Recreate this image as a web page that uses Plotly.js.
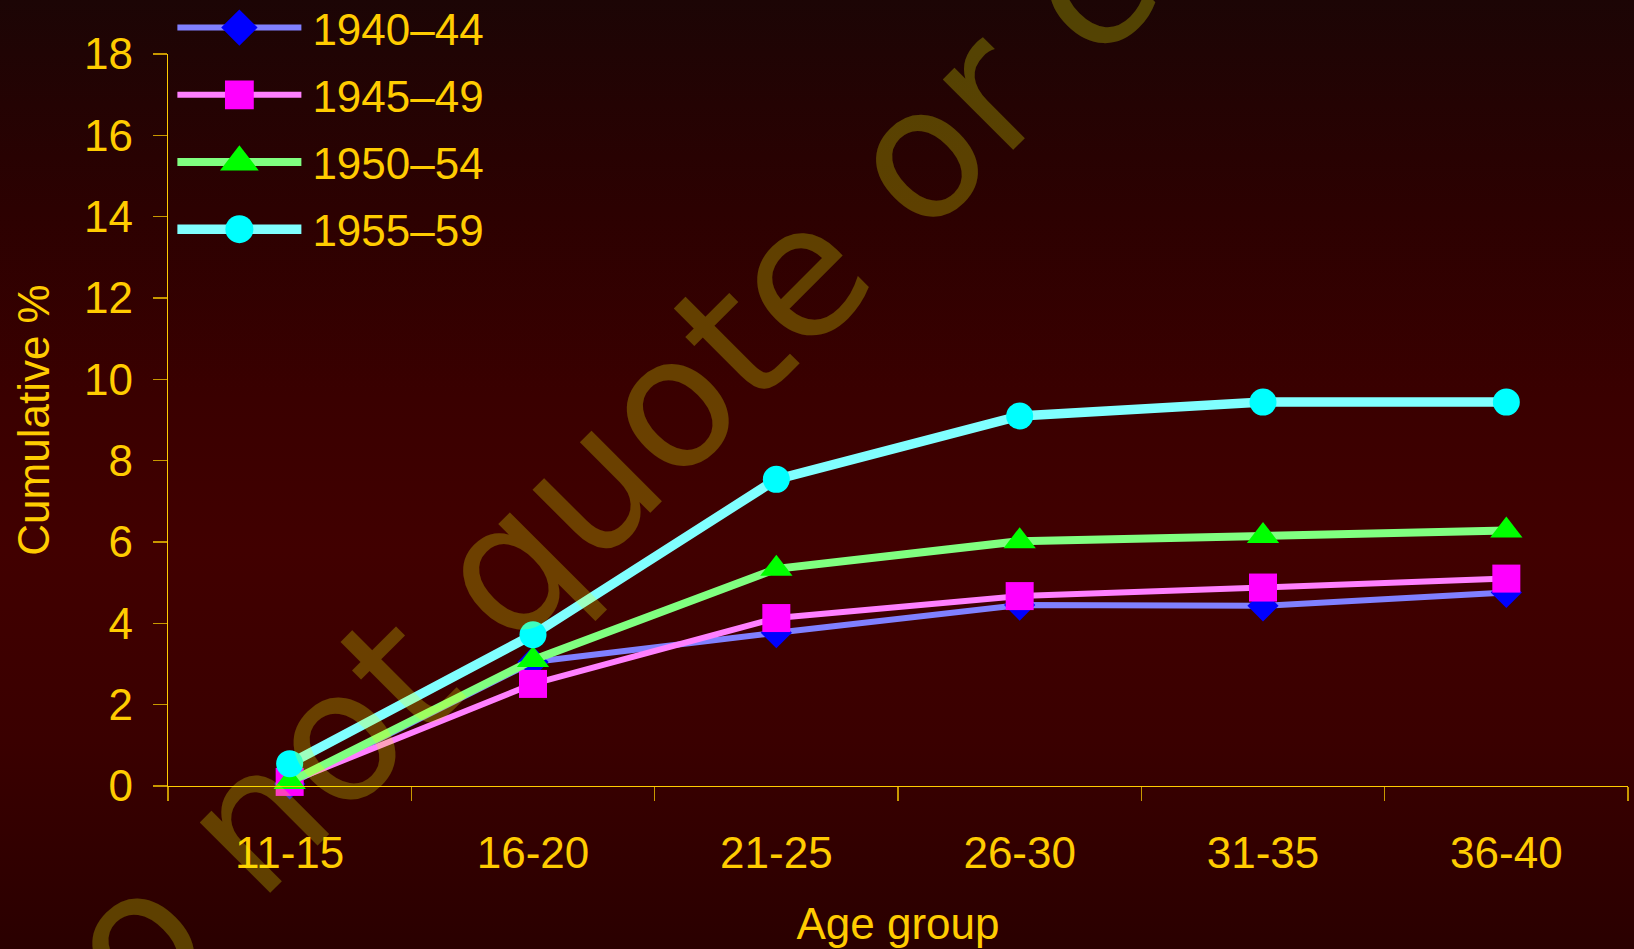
<!DOCTYPE html>
<html>
<head>
<meta charset="utf-8">
<script src="https://cdn.plot.ly/plotly-3.0.1.min.js"></script>
<style>
  html, body { margin: 0; padding: 0; }
  body {
    width: 1634px; height: 949px; overflow: hidden;
    background: linear-gradient(to bottom, #1c0505 0%, #2c0101 22%, #3a0000 42%, #410000 58%, #3a0000 78%, #2a0000 100%);
  }
  #chart { width: 1634px; height: 949px; }
</style>
</head>
<body>
<div id="chart"></div>
<script>
// ---- data ----
const ageGroups = ['11-15', '16-20', '21-25', '26-30', '31-35', '36-40'];
const cohortNames = ['1940\u201344', '1945\u201349', '1950\u201354', '1955\u201359'];
const cohort1940 = [0.05, 3.05, 3.77, 4.45, 4.43, 4.76];
const cohort1945 = [0.1, 2.51, 4.13, 4.67, 4.88, 5.10];
const cohort1950 = [0.1, 3.1, 5.34, 6.02, 6.15, 6.28];
const cohort1955 = [0.55, 3.72, 7.54, 9.1, 9.44, 9.44];
const yTicks = [0, 2, 4, 6, 8, 10, 12, 14, 16, 18];
const xTitle = 'Age group';
const yTitle = 'Cumulative %';
const watermark = 'Do not quote or cite';

// ---- styles ----
const gold = '#ffcc00';
const series = [
  {y: cohort1940, line: '#8080ff', marker: '#0000ff', symbol: 'diamond', size: 24, lw: 6, lsize: 1.75},
  {y: cohort1945, line: '#ff80ff', marker: '#ff00ff', symbol: 'square', size: 28, lw: 6, lsize: 1.8},
  {y: cohort1950, line: '#80ff80', marker: '#00ff00', symbol: 'triangle-up', size: 28, lw: 8, lsize: 2.1},
  {y: cohort1955, line: '#80ffff', marker: '#00ffff', symbol: 'circle', size: 27, lw: 9.5, lsize: 1.75}
];

const traces = series.map((s, i) => ({
  type: 'scatter',
  mode: 'lines+markers',
  name: cohortNames[i],
  legendgroup: 'g' + i,
  x: ageGroups,
  y: s.y,
  line: {color: s.line, width: s.lw},
  marker: {color: s.marker, symbol: s.symbol, size: s.size, line: {width: 0}},
  cliponaxis: false
}));

const font = {family: '"Liberation Sans", Arial, sans-serif', size: 44, color: gold};

const layout = {
  width: 1634, height: 949,
  paper_bgcolor: 'rgba(0,0,0,0)',
  plot_bgcolor: 'rgba(0,0,0,0)',
  margin: {l: 168, r: 6, t: 54, b: 163, autoexpand: false},
  font: font,
  showlegend: true,
  legend: {
    x: 0.003, y: 1.084, xanchor: 'left', yanchor: 'top',
    bgcolor: 'rgba(0,0,0,0)', borderwidth: 0,
    font: font, itemwidth: 130, tracegroupgap: 7,
    traceorder: 'grouped'
  },
  xaxis: {
    type: 'category',
    range: [-0.5, 5.5],
    showline: true, linecolor: gold, linewidth: 1.3,
    ticks: 'outside', tickson: 'boundaries', ticklen: 14, tickcolor: '#c89800', tickwidth: 1.3,
    showgrid: false, zeroline: false,
    tickfont: font,
    ticklabelstandoff: 28,
    title: {text: xTitle, font: font, standoff: 32},
    automargin: false
  },
  yaxis: {
    range: [0, 18],
    tickvals: yTicks,
    showline: true, linecolor: gold, linewidth: 1.3,
    ticks: 'outside', ticklen: 14, tickcolor: '#c89800', tickwidth: 1.3,
    showgrid: false, zeroline: false,
    tickfont: font,
    ticklabelstandoff: 11,
    title: {text: yTitle, font: font, standoff: 20},
    automargin: false
  },
  annotations: [{
    text: watermark,
    xref: 'paper', yref: 'paper',
    x: 0.324, y: 0.482,
    xanchor: 'center', yanchor: 'middle',
    textangle: -45,
    showarrow: false,
    font: {family: '"DejaVu Sans", Verdana, sans-serif', size: 182, color: 'rgba(245,255,0,0.25)'}
  }]
};

Plotly.newPlot('chart', traces, layout, {displayModeBar: false, staticPlot: true}).then(gd => {
  const items = gd.querySelectorAll('.legend .traces');
  items.forEach((g, i) => {
    const s = series[i];
    g.querySelectorAll('.legendlines path').forEach(p => {
      p.setAttribute('d', 'M5,0h124');
      p.style.strokeWidth = s.lw + 'px';
    });
    g.querySelectorAll('.legendpoints path').forEach(p => {
      p.setAttribute('transform', 'translate(67,0) scale(' + s.lsize + ')');
    });
  });
});
</script>
</body>
</html>
